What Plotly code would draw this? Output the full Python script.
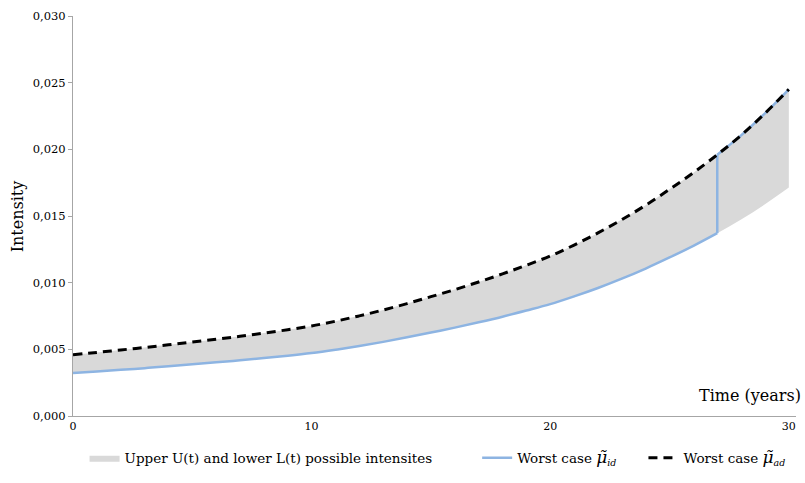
import plotly.graph_objects as go

years = list(range(0, 31))
upper = [0.00460, 0.00477, 0.00495, 0.00514, 0.00534, 0.00555, 0.00576, 0.00598,
         0.00622, 0.00647, 0.00675, 0.00711, 0.00751, 0.00795, 0.00843, 0.00895,
         0.00948, 0.01005, 0.01066, 0.01131, 0.01200, 0.01282, 0.01373, 0.01473,
         0.01581, 0.01700, 0.01825, 0.01960, 0.02105, 0.02270, 0.02450]
lower = [0.00322, 0.00334, 0.00346, 0.00359, 0.00373, 0.00388, 0.00403, 0.00418,
         0.00435, 0.00452, 0.00472, 0.00497, 0.00525, 0.00556, 0.00590, 0.00626,
         0.00663, 0.00703, 0.00745, 0.00791, 0.00839, 0.00897, 0.00960, 0.01030,
         0.01106, 0.01189, 0.01276, 0.01371, 0.01474, 0.01588, 0.01713]
switch_year = 27
x_ticks = [0, 10, 20, 30]
y_ticks = [0.000, 0.005, 0.010, 0.015, 0.020, 0.025, 0.030]

k = years.index(switch_year)

FONT = "DejaVu Serif"
BLUE = "#8db4e2"
MU = "<span style='font-size:17px'>μ̃</span>"
fig = go.Figure()
fig.add_trace(go.Scatter(x=years, y=lower, mode="lines", line=dict(width=0, color="#d9d9d9", shape="spline"),
                         showlegend=False, hoverinfo="skip"))
fig.add_trace(go.Scatter(x=years, y=upper, mode="lines", line=dict(width=0, color="#d9d9d9", shape="spline"),
                         fill="tonexty", fillcolor="#d9d9d9",
                         name="Upper U(t) and lower L(t) possible intensites", legend="legend"))
# worst case id: lower curve until switch year, jump, then upper curve
fig.add_trace(go.Scatter(x=years[:k + 1], y=lower[:k + 1], mode="lines",
                         line=dict(width=2.5, color=BLUE, shape="spline"),
                         legendgroup="id", name=f"Worst case <i>{MU}<sub>id</sub></i>", legend="legend2"))
fig.add_trace(go.Scatter(x=[years[k], years[k]], y=[lower[k], upper[k]], mode="lines",
                         line=dict(width=2.5, color=BLUE), legendgroup="id", showlegend=False))
fig.add_trace(go.Scatter(x=years[k:], y=upper[k:], mode="lines",
                         line=dict(width=2.5, color=BLUE, shape="spline"), legendgroup="id", showlegend=False))
fig.add_trace(go.Scatter(x=years, y=upper, mode="lines",
                         line=dict(width=3, color="#000000", dash="9px,6px", shape="spline"),
                         name=f"Worst case <i>{MU}<sub>ad</sub></i>", legend="legend3"))

leg_common = dict(orientation="h", yanchor="middle", xanchor="left", y=-0.105,
                  font=dict(family=FONT, size=13.5, color="#000000"),
                  bgcolor="rgba(0,0,0,0)", itemwidth=30)
fig.update_layout(
    width=805, height=483,
    margin=dict(l=73, r=9, t=13, b=60),
    paper_bgcolor="white", plot_bgcolor="white",
    separators=", ",
    font=dict(family=FONT, color="#000000"),
    legend=dict(x=0.016, **leg_common),
    legend2=dict(x=0.559, **leg_common),
    legend3=dict(x=0.789, **leg_common),
    xaxis=dict(range=[0, 30.3], tickvals=x_ticks, ticks="", showgrid=False, zeroline=False,
               showline=True, linecolor="#a6a6a6", linewidth=1,
               tickfont=dict(family=FONT, size=11, color="#000000")),
    yaxis=dict(range=[0, 0.030], tickvals=y_ticks, tickformat=".3f", ticks="outside",
               ticklen=4, tickcolor="#a6a6a6", showgrid=False, zeroline=False,
               showline=True, linecolor="#a6a6a6", linewidth=1,
               tickfont=dict(family=FONT, size=11.5, color="#000000")),
    annotations=[
        dict(text="Intensity", x=-0.077, y=0.5, xref="paper", yref="paper", textangle=-90,
             showarrow=False, font=dict(family=FONT, size=16, color="#000000"),
             xanchor="center", yanchor="middle"),
        dict(text="Time (years)", x=1.0097, y=0.052, xref="paper", yref="paper",
             showarrow=False, font=dict(family=FONT, size=16, color="#000000"),
             xanchor="right", yanchor="middle"),
    ],
)
fig.write_html("out.html", config={"displayModeBar": False},
               post_script="document.body.style.margin='0px';document.body.style.overflow='hidden';")
